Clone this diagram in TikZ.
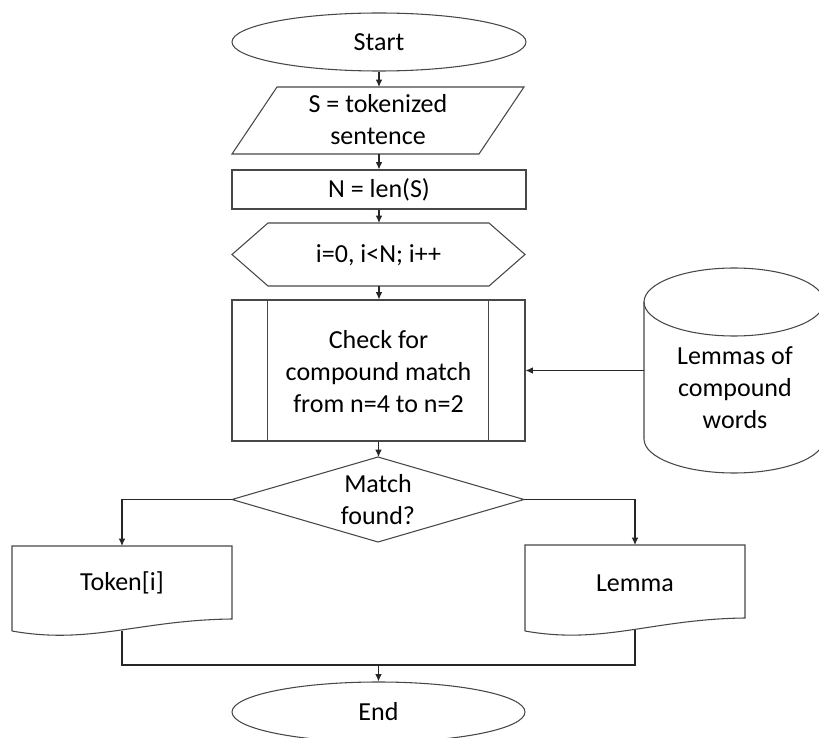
\documentclass[tikz,border=0pt]{standalone}
\usepackage{fontspec}
\setmainfont{Carlito}
\usetikzlibrary{arrows.meta,shapes.geometric}
\begin{document}
\begin{tikzpicture}[x=0.75pt,y=-0.75pt,
  shp/.style={draw=black!72, line width=0.8pt},
  box/.style={inner sep=0pt, outer sep=0pt},
  lbl/.style={align=center, font=\fontsize{19.5}{24}\selectfont, inner sep=0pt, text=black},
  conn/.style={draw=black!85, line width=0.8pt},
  arr/.style={conn, -{Latex[length=5.5pt,width=5pt]}}]
\useasboundingbox (0,0) rectangle (819,738);
\clip (0,0) rectangle (819,738);
% start / end
\node[shp, ellipse, minimum width=220.5pt, minimum height=43.5pt, lbl] (start) at (379,42) {Start};
\node[shp, ellipse, minimum width=219.75pt, minimum height=45pt, lbl] (end) at (378.5,712) {End};
% input parallelogram
\node[box, minimum width=219pt, minimum height=50.25pt] (input) at (378,120.5) {};
\draw[shp] ([xshift=33.75pt]input.north west) -- (input.north east) -- ([xshift=-33.75pt]input.south east) -- (input.south west) -- cycle;
\node[lbl] (inputtext) at (378,120) {S = tokenized\\sentence};
% init rectangle
\node[shp, rectangle, minimum width=220.5pt, minimum height=29.25pt, lbl] (init) at (379,189.5) {N = len(S)};
% loop hexagon
\node[box, minimum width=219.75pt, minimum height=47.25pt] (loop) at (378.5,254.5) {};
\draw[shp] (loop.west) -- ([xshift=27pt]loop.north west) -- ([xshift=-27pt]loop.north east) -- (loop.east) -- ([xshift=-27pt]loop.south east) -- ([xshift=27pt]loop.south west) -- cycle;
\node[lbl] (looptext) at (378.5,255) {i=0, i<N; i++};
% predefined process
\node[shp, rectangle, minimum width=219.75pt, minimum height=105.75pt, inner sep=0pt] (check) at (378.5,370.5) {};
\draw[shp] ([xshift=27pt]check.north west) -- ([xshift=27pt]check.south west);
\draw[shp] ([xshift=-27.75pt]check.north east) -- ([xshift=-27.75pt]check.south east);
\node[lbl] (checktext) at (378.5,372) {Check for\\compound match\\from n=4 to n=2};
% database cylinder
\node[box, minimum width=135pt, minimum height=153.75pt] (db) at (734,370.5) {};
\draw[shp] ([yshift=-25.5pt]db.north west) -- ([yshift=25.5pt]db.south west) arc[start angle=180, end angle=360, x radius=67.5pt, y radius=25.5pt] -- ([yshift=-25.5pt]db.north east);
\draw[shp] ([yshift=-25.5pt]db.north) ellipse[x radius=67.5pt, y radius=25.5pt];
\node[lbl] (dbtext) at (735,388) {Lemmas of\\compound\\words};
% decision diamond
\node[box, minimum width=219pt, minimum height=63.75pt] (dia) at (378,499.5) {};
\draw[shp] (dia.north) -- (dia.east) -- (dia.south) -- (dia.west) -- cycle;
\node[lbl] (diatext) at (378,499.5) {Match\\found?};
% documents
\node[box, minimum width=165pt, minimum height=54.75pt] (token) at (122,582.5) {};
\draw[shp] ([yshift=-9pt]token.south west) -- (token.north west) -- (token.north east) -- (token.south east)
  .. controls ([xshift=-69pt,yshift=-0.75pt]token.south east) and ([xshift=58.5pt,yshift=-19.5pt]token.south west) .. ([yshift=-9pt]token.south west);
\node[lbl] (tokentext) at (122,583) {Token[i]};
\node[box, minimum width=165pt, minimum height=54.75pt] (lemma) at (635,581.5) {};
\draw[shp] ([yshift=-9.75pt]lemma.south west) -- (lemma.north west) -- (lemma.north east) -- (lemma.south east)
  .. controls ([xshift=-69pt,yshift=-0.75pt]lemma.south east) and ([xshift=58.5pt,yshift=-20.25pt]lemma.south west) .. ([yshift=-9.75pt]lemma.south west);
\node[lbl] (lemmatext) at (635,583) {Lemma};
% connectors
\draw[arr] (start.south) -- (start.south |- input.north);
\draw[arr] (start.south |- input.south) -- (start.south |- init.north);
\draw[arr] (init.south) -- (init.south |- loop.north);
\draw[arr] (init.south |- loop.south) -- (init.south |- check.north);
\draw[arr] (db.west) -- (check.east |- db.west);
\draw[arr] (check.south) -- (check.south |- dia.north);
\draw[arr] (dia.west) -| (token.north);
\draw[arr] (dia.east) -| (lemma.north);
\coordinate (join) at (378.5,665);
\draw[conn] ([yshift=-9pt]token.south) |- (join) -| ([yshift=-9pt]lemma.south);
\draw[arr] (join) -- (end.north);
\end{tikzpicture}
\end{document}
